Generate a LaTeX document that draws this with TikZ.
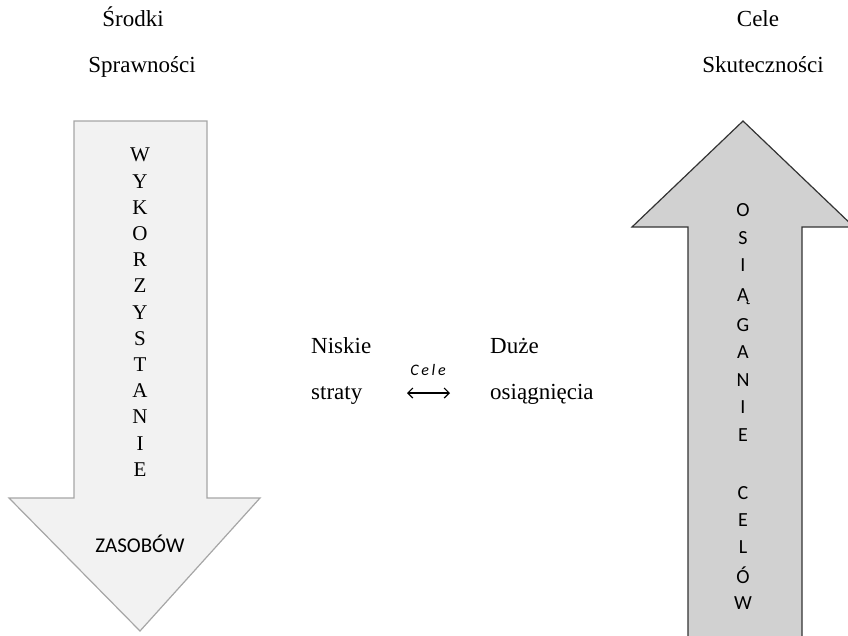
\documentclass[tikz,border=0pt]{standalone}
\usepackage{fontspec}
\setmainfont{Liberation Serif}
\newfontfamily\calfont{Carlito}
\usetikzlibrary{arrows.meta}
\begin{document}
\begin{tikzpicture}[x=1pt,y=-1pt,
  serif/.style={font=\fontsize{23}{25}\selectfont, inner sep=0pt, anchor=base},
  vletL/.style={font=\fontsize{21}{22}\selectfont, inner sep=0pt},
  vletR/.style={font=\calfont\fontsize{20}{22}\selectfont, inner sep=0pt},
  arrowL/.style={draw=black!35, fill=black!5, line width=1.2pt},
  arrowR/.style={draw=black!80, fill=black!18, line width=1.2pt},
  dbl/.style={{Straight Barb[length=5pt,width=10pt,line width=1.2pt]}-{Straight Barb[length=5pt,width=10pt,line width=1.2pt]}, line width=1.2pt}]
\useasboundingbox (0,0) rectangle (848,635);
% left arrow (down)
\draw[arrowL] (74,121) -- (207,121) -- (207,498) -- (260,498) -- (140,631) -- (9,498) -- (74,498) -- cycle;
% right arrow (up)
\draw[arrowR] (688,640) -- (688,227) -- (632,227) -- (743,121) -- (854,227) -- (802,227) -- (802,640);
% header texts
\node[serif] (srodki) at (133,26) {Środki};
\node[serif] (sprawnosci) at (142,72) {Sprawności};
\node[serif] (cele) at (758,26) {Cele};
\node[serif] (skutecznosci) at (763,72) {Skuteczności};
% left vertical word
\foreach \l [count=\i] in {W,Y,K,O,R,Z,Y,S,T,A,N,I,E}
  \node[vletL] (wl\i) at (140,{155+26.2*(\i-1)}) {\l};
\node[font=\calfont\fontsize{21}{22}\selectfont, inner sep=0pt] (zasobow) at (140,544) {ZASOBÓW};
% right vertical word
\foreach \l/\yy [count=\i] in {O/210,S/238,I/265,Ą/297,G/325,A/352,N/380,I/407,E/435,C/493,E/520,L/547,Ó/575,W/603}
  \node[vletR] (wr\i) at (743,\yy) {\l};
% middle
\node[serif, anchor=base west] (niskie) at (311,353) {Niskie};
\node[serif, anchor=base west] (straty) at (311,399) {straty};
\node[serif, anchor=base west] (duze) at (490,353) {Duże};
\node[serif, anchor=base west] (osiag) at (490,399) {osiągnięcia};
\node[font=\calfont\itshape\fontsize{16}{18}\selectfont, inner sep=0pt] (celem) at (428,370) {C\,e\,l\,e};
\coordinate (lrA) at (407,393);
\coordinate (lrB) at (450,393);
\draw[dbl] (lrA) -- (lrB);
\end{tikzpicture}
\end{document}
